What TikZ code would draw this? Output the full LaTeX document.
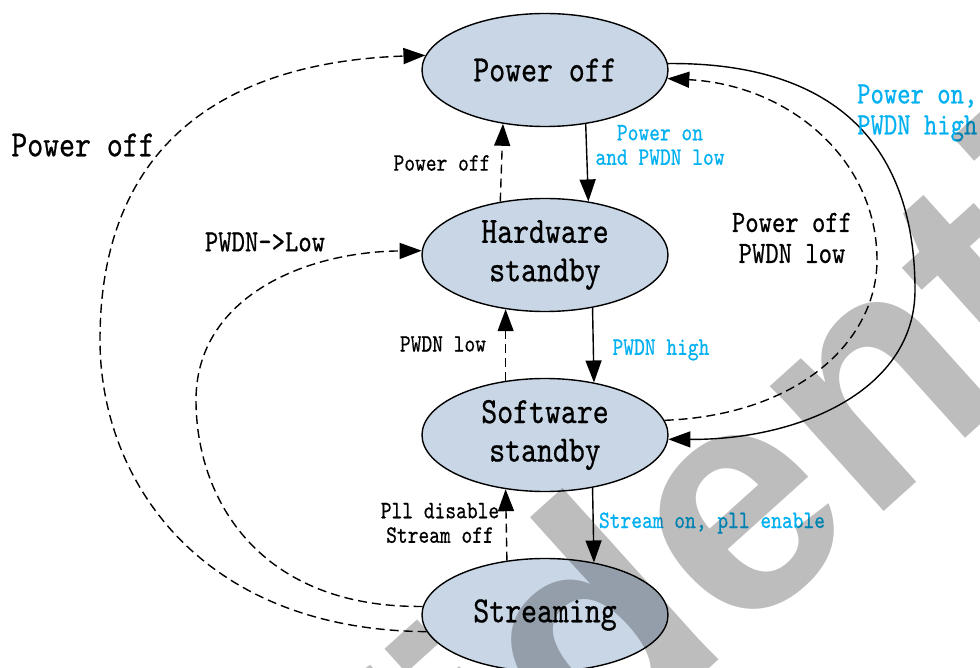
\documentclass[tikz,border=0pt]{standalone}
\usepackage{fontspec}
\usetikzlibrary{shapes.geometric,arrows.meta}
\newfontfamily\monof{lmmono10-regular.otf}[FakeStretch=0.82,FakeBold=0.6]
\newfontfamily\wmfont{Liberation Sans}
\definecolor{nodefill}{RGB}{200,214,230}
\definecolor{lblcyan}{RGB}{0,176,240}
\begin{document}
\begin{tikzpicture}[x=1pt,y=1pt,
  state/.style={ellipse,draw=black,line width=1.4pt,fill=nodefill,minimum width=246pt,minimum height=113pt,inner sep=0pt,align=center,font=\monof\fontsize{37}{38.5}\selectfont},
  conn/.style={line width=1.4pt,-{Triangle[length=22pt,width=16pt]}},
  dconn/.style={conn,dash pattern=on 9pt off 5pt},
  small/.style={font=\monof\fontsize{25}{24.5}\selectfont,align=center,inner sep=0pt},
  medium/.style={font=\monof\fontsize{31}{31}\selectfont,inner sep=0pt},
  large/.style={font=\monof\fontsize{37}{37}\selectfont,inner sep=0pt},
  cyanlbl/.style={text=lblcyan}
]
\useasboundingbox (0,0) rectangle (980,-668);
% states
\node[state] (po) at (545,-70) {Power off};
\node[state] (hw) at (545,-255) {Hardware\\standby};
\node[state] (sw) at (545,-435) {Software\\standby};
\node[state] (st) at (545,-615) {Streaming};
% vertical transitions
\draw[conn] (po.-53) -- (hw.51);
\draw[dconn] (hw.130) -- (po.-128);
\draw[conn] (hw.-48) -- (sw.47);
\draw[dconn] (sw.126) -- (hw.-126);
\draw[conn] (sw.-48) -- (st.47);
\draw[dconn] (st.125) -- (sw.-126);
% left loops
\draw[dconn] (st.176.7) .. controls (260,-608) and (196,-500) .. (196,-400)
  .. controls (196,-300) and (300,-252) .. (hw.178);
\draw[dconn] (st.-172.8) .. controls (200,-630) and (100,-480) .. (100,-340)
  .. controls (100,-140) and (230,-62) .. (po.173.8);
% right loops
\draw[conn] (po.3.8) .. controls (840,-62) and (915,-150) .. (915,-290)
  .. controls (915,-390) and (800,-440) .. (sw.-2.3);
\draw[dconn] (sw.7.2) .. controls (800,-415) and (877,-340) .. (877,-260)
  .. controls (877,-160) and (790,-85) .. (po.-4.7);
% labels
\node[small,cyanlbl] (l1) at (660,-145) {Power on\\and PWDN low};
\node[small] (l2) at (442,-163) {Power off};
\node[small,cyanlbl] (l3) at (661,-350) {PWDN high};
\node[small] (l4) at (443,-344) {PWDN low};
\node[small,cyanlbl] (l5) at (712,-523) {Stream on, pll enable};
\node[small] (l6) at (440,-523) {Pll disable\\Stream off};
\node[medium] (l7) at (265,-242) {PWDN->Low};
\node[large] (l8) at (83,-145) {Power off};
\node[medium,align=center] (l9) at (792,-238) {Power off\\PWDN low};
\node[medium,align=left,cyanlbl,anchor=west] (l10) at (857,-113) {Power on,\\PWDN high};
% watermark
\begin{scope}
\clip (0,0) rectangle (980,-668);
\node[rotate=42,anchor=base west,font=\wmfont\bfseries\fontsize{320}{320}\selectfont,text=black,text opacity=0.26,inner sep=0pt] (wm) at (-18,-1324) {Confidential};
\end{scope}
\end{tikzpicture}
\end{document}
